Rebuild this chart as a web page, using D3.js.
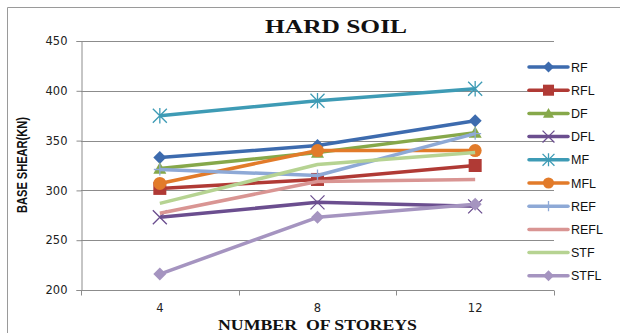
<!DOCTYPE html>
<html>
<head>
<meta charset="utf-8">
<script src="https://cdn.jsdelivr.net/npm/d3@7/dist/d3.min.js"></script>
<style>
  body { margin: 0; background: #fff; }
  svg { display: block; }
</style>
</head>
<body>
<svg id="chart" width="620" height="333"></svg>
<script>
// Base shear (kN) for each frame model on hard soil
const storeys = ["4", "8", "12"];
const seriesNames = ["RF", "RFL", "DF", "DFL", "MF", "MFL", "REF", "REFL", "STF", "STFL"];
const RF   = [333, 345, 370];
const RFL  = [302, 311, 325];
const DF   = [322, 338, 358];
const DFL  = [273, 288, 284];
const MF   = [375, 390, 402];
const MFL  = [307, 340, 340];
const REF  = [321, 315, 357];
const REFL = [277, 309, 311];
const STF  = [287, 326, 338];
const STFL = [216, 273, 286];
const yTicks = [200, 250, 300, 350, 400, 450];

const seriesValues = [RF, RFL, DF, DFL, MF, MFL, REF, REFL, STF, STFL];
const colors = ["#3D6BAE", "#B03A35", "#86A84A", "#6B4E8F", "#3E9BB5", "#E27B2A",
                "#8EA9D6", "#D99593", "#B6D392", "#A594C0"];
const markers = ["diamond", "square", "triangle", "x", "star", "circle", "plus", "none", "none", "diamond"];

const svg = d3.select("#chart");

// chart frame edges
svg.append("line").attr("x1", 7.5).attr("x2", 620).attr("y1", 7.5).attr("y2", 7.5)
  .attr("stroke", "#9a9a9a").attr("stroke-width", 1);
svg.append("line").attr("x1", 7.5).attr("x2", 7.5).attr("y1", 7.5).attr("y2", 333)
  .attr("stroke", "#9a9a9a").attr("stroke-width", 1);

const x = d3.scaleBand().domain(storeys).range([81, 554]).padding(0);
const y = d3.scaleLinear().domain([200, 450]).range([290, 41]);

// horizontal gridlines
svg.append("g").selectAll("line").data(yTicks.slice(1)).join("line")
  .attr("x1", 81).attr("x2", 554)
  .attr("y1", d => Math.round(y(d)) + 0.5).attr("y2", d => Math.round(y(d)) + 0.5)
  .attr("stroke", "#8c8c8c").attr("stroke-width", 1);

// y axis
const yAxis = svg.append("g").attr("transform", "translate(81.5,0)")
  .call(d3.axisLeft(y).tickValues(yTicks).tickSize(5).tickPadding(9));
yAxis.select(".domain").attr("stroke", "#8c8c8c");
yAxis.selectAll(".tick line").attr("stroke", "#8c8c8c");
yAxis.selectAll(".tick text").attr("font-family", "DejaVu Sans, Verdana, sans-serif")
  .attr("font-size", 11.5).attr("fill", "#222");

// x axis with tick marks at the category boundaries
const xAxisG = svg.append("g").attr("transform", `translate(0,${Math.round(y(200)) + 0.5})`);
xAxisG.append("line").attr("x1", 81).attr("x2", 554).attr("stroke", "#8c8c8c");
const edges = storeys.map(s => x(s)).concat([x(storeys[storeys.length - 1]) + x.bandwidth()]);
xAxisG.selectAll("line.tk").data(edges).join("line").attr("class", "tk")
  .attr("x1", d => Math.round(d) + 0.5).attr("x2", d => Math.round(d) + 0.5)
  .attr("y1", 0).attr("y2", 5).attr("stroke", "#8c8c8c");
xAxisG.selectAll("text").data(storeys).join("text")
  .attr("x", d => x(d) + x.bandwidth() / 2).attr("y", 21)
  .attr("text-anchor", "middle")
  .attr("font-family", "DejaVu Sans, Verdana, sans-serif").attr("font-size", 11.5)
  .attr("fill", "#222").text(d => d);

// marker shapes
function drawMarker(g, type, cx, cy, color, s) {
  switch (type) {
    case "diamond":
      g.append("path").attr("d", `M${cx},${cy - s}L${cx + s},${cy}L${cx},${cy + s}L${cx - s},${cy}Z`)
        .attr("fill", color); break;
    case "square":
      g.append("rect").attr("x", cx - s).attr("y", cy - s).attr("width", 2 * s).attr("height", 2 * s)
        .attr("fill", color); break;
    case "triangle":
      g.append("path").attr("d", `M${cx},${cy - s}L${cx + s},${cy + s * 0.8}L${cx - s},${cy + s * 0.8}Z`)
        .attr("fill", color); break;
    case "circle":
      g.append("circle").attr("cx", cx).attr("cy", cy).attr("r", s).attr("fill", color); break;
    case "x":
      g.append("path").attr("d", `M${cx - s},${cy - s}L${cx + s},${cy + s}M${cx - s},${cy + s}L${cx + s},${cy - s}`)
        .attr("stroke", color).attr("stroke-width", 1.3).attr("fill", "none"); break;
    case "star":
      g.append("path").attr("d", `M${cx - s},${cy - s}L${cx + s},${cy + s}M${cx - s},${cy + s}L${cx + s},${cy - s}M${cx},${cy - s * 1.1}L${cx},${cy + s * 1.1}`)
        .attr("stroke", color).attr("stroke-width", 1.3).attr("fill", "none"); break;
    case "plus":
      g.append("path").attr("d", `M${cx},${cy - s}L${cx},${cy + s}M${cx - s},${cy}L${cx + s},${cy}`)
        .attr("stroke", color).attr("stroke-width", 1.3).attr("fill", "none"); break;
  }
}
const markerSize = { diamond: 6.5, square: 6.5, triangle: 6.5, circle: 6.5, x: 7, star: 7, plus: 6, none: 0 };

// series lines and markers
const line = d3.line().x((d, i) => x(storeys[i]) + x.bandwidth() / 2).y(d => y(d));
const plot = svg.append("g");
seriesValues.forEach((vals, k) => {
  const g = plot.append("g");
  g.append("path").datum(vals).attr("d", line)
    .attr("fill", "none").attr("stroke", colors[k]).attr("stroke-width", 3.5)
    .attr("stroke-linejoin", "round");
  vals.forEach((v, i) => {
    drawMarker(g, markers[k], x(storeys[i]) + x.bandwidth() / 2, y(v), colors[k], markerSize[markers[k]]);
  });
});

// legend
const legend = svg.append("g");
seriesNames.forEach((name, k) => {
  const ly = 67 + k * 23.2;
  const g = legend.append("g");
  g.append("line").attr("x1", 529).attr("x2", 568).attr("y1", ly).attr("y2", ly)
    .attr("stroke", colors[k]).attr("stroke-width", 3.5).attr("stroke-linecap", "round");
  drawMarker(g, markers[k], 548.5, ly, colors[k], markerSize[markers[k]] * 0.85);
  g.append("text").attr("x", 571).attr("y", ly + 4.5)
    .attr("font-family", "Liberation Sans, Arial, sans-serif").attr("font-size", 12.5)
    .attr("fill", "#111").text(name);
});

// titles
svg.append("text").attr("x", 336).attr("y", 33).attr("text-anchor", "middle")
  .attr("font-family", "Liberation Serif, Times New Roman, serif").attr("font-weight", "bold")
  .attr("font-size", 18.5).attr("fill", "#111")
  .attr("textLength", 142).attr("lengthAdjust", "spacingAndGlyphs").text("HARD SOIL");
svg.append("text").attr("x", 317.5).attr("y", 330).attr("text-anchor", "middle")
  .attr("font-family", "Liberation Serif, Times New Roman, serif").attr("font-weight", "bold")
  .attr("font-size", 14).attr("fill", "#111").attr("xml:space", "preserve")
  .attr("textLength", 199).attr("lengthAdjust", "spacingAndGlyphs")
  .text("NUMBER  OF STOREYS");
svg.append("text").attr("transform", "translate(27,165) rotate(-90)").attr("text-anchor", "middle")
  .attr("font-family", "Liberation Sans Narrow, Arial Narrow, sans-serif").attr("font-weight", "bold")
  .attr("font-size", 14).attr("fill", "#111")
  .attr("textLength", 96).attr("lengthAdjust", "spacingAndGlyphs").text("BASE SHEAR(KN)");
</script>
</body>
</html>
